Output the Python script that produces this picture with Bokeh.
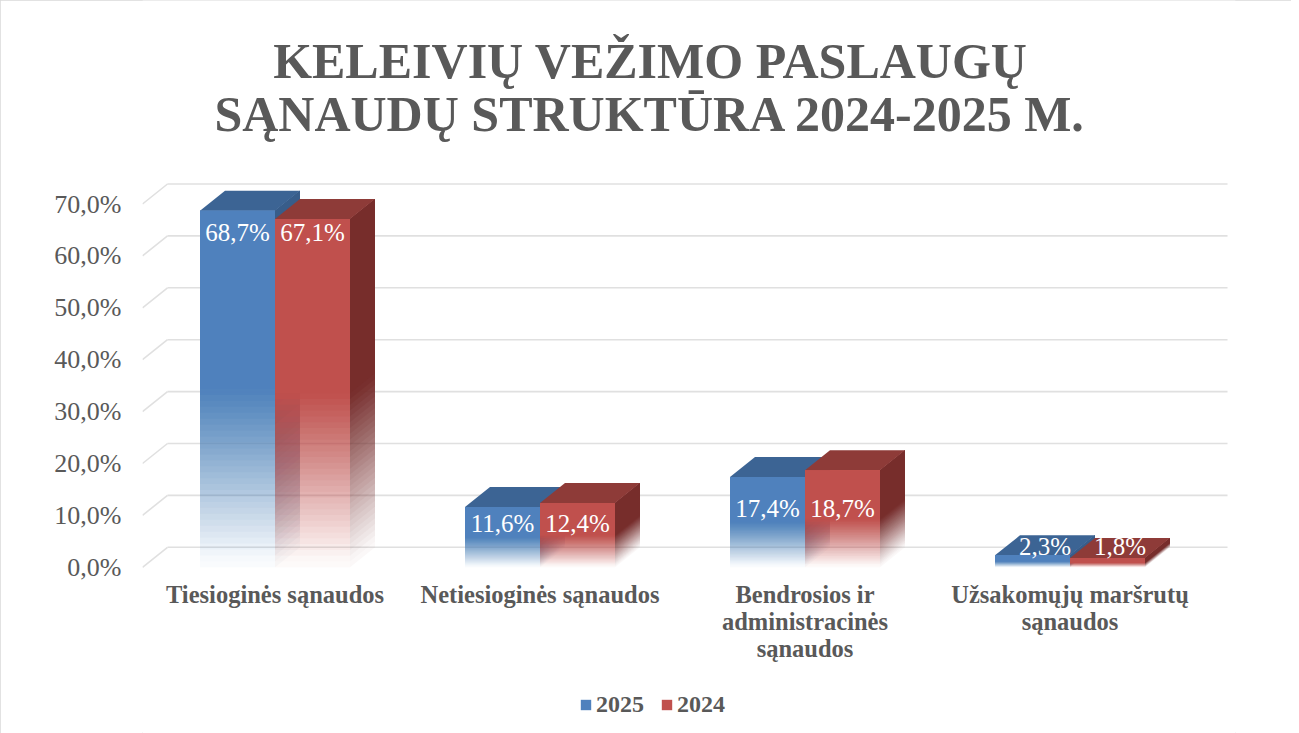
import numpy as np
from bokeh.plotting import figure
from bokeh.models import (Range1d, FixedTicker, CustomJSTickFormatter,
                          Legend, LegendItem, ColumnDataSource)
from bokeh.embed import file_html
from bokeh.resources import INLINE
from bokeh.core.properties import value

# ---------------- data ----------------
categories = ["Tiesioginės sąnaudos", "Netiesioginės sąnaudos",
              "Bendrosios ir\nadministracinės\nsąnaudos",
              "Užsakomųjų maršrutų\nsąnaudos"]
series_names = ["2025", "2024"]
values_2025 = [68.7, 11.6, 17.4, 2.3]
values_2024 = [67.1, 12.4, 18.7, 1.8]
y_ticks = [0, 10, 20, 30, 40, 50, 60, 70]
title_lines = ["KELEIVIŲ VEŽIMO PASLAUGŲ", "SĄNAUDŲ STRUKTŪRA 2024-2025 M."]

# ---------------- styles / geometry ----------------
W, H = 1291, 733
PAGE = 0
ML, MR = 142, 56
FW, FH = W - ML - MR, H
PX_X = 265.0          # pixels per category
PX_Y = 5.19           # pixels per percent
ZERO_PAGE_Y = 566.8   # page y of 0 % (front)
Y_END = (ZERO_PAGE_Y - PAGE) / PX_Y
Y0 = Y_END - FH / PX_Y
X_END = FW / PX_X
DX = 25 / PX_X        # depth offset (x)
DY = 20 / PX_Y        # depth offset (y)
BW = 75 / PX_X        # bar width
GRAY = "#595959"
SERIF = "Liberation Serif"

front_cols = ["#4F81BD", "#C0504D"]
top_cols = ["#3C6494", "#8E3B38"]
side_cols = ["#385D8A", "#772D2B"]

def page_to_y(py):
    return Y_END - (py - PAGE) / PX_Y

def page_to_x(px):
    return (px - PAGE - ML) / PX_X

p = figure(width=W, height=H, output_backend="svg", toolbar_location=None,
           x_range=Range1d(0, X_END), y_range=Range1d(Y0, Y_END),
           min_border_left=ML, min_border_right=MR, min_border_top=0,
           min_border_bottom=0)
p.outline_line_color = None
p.background_fill_color = "white"
p.border_fill_color = "white"
p.xgrid.visible = False
p.ygrid.visible = False
p.xaxis.visible = False
p.styles = {"outline": "1px solid #D9D9D9", "outline-offset": "-1px"}

# ---------------- back wall gridlines ----------------
grid_x_end = len(categories) + DX
gx0, gy0, gx1, gy1 = [], [], [], []
for t in y_ticks:
    gx0 += [0, DX]
    gy0 += [t, t + DY]
    gx1 += [DX, grid_x_end]
    gy1 += [t + DY, t + DY]
p.segment(gx0, gy0, gx1, gy1, line_color="#E0E0E0", line_width=1.6)

# ---------------- 3D bars (layered alpha gradient) ----------------
N = 30
targets = [max(0.03, (k + 0.5) / N) for k in range(N)]
layer_alpha = []
prev = 0.0
for T in targets:
    layer_alpha.append(1 - (1 - T) / (1 - prev))
    prev = T
layer_alpha.append(1.0)   # solid upper half

all_vals = [values_2025, values_2024]
front_renderers = []
for s in range(2):
    side = dict(xs=[], ys=[], a=[])
    top = dict(xs=[], ys=[])
    front = dict(xs=[], ys=[], a=[])
    for i, v in enumerate(all_vals[s]):
        x0 = i + 0.5 - BW + s * BW
        x1 = x0 + BW
        for k in range(N + 1):
            a = v * k / (2 * N)
            front["xs"].append([x0, x1, x1, x0])
            front["ys"].append([a, a, v, v])
            front["a"].append(layer_alpha[k])
            side["xs"].append([x1, x1 + DX, x1 + DX, x1])
            side["ys"].append([a, a + DY, v + DY, v])
            side["a"].append(layer_alpha[k])
        top["xs"].append([x0, x1, x1 + DX, x0 + DX])
        top["ys"].append([v, v, v + DY, v + DY])
    p.patches("xs", "ys", source=ColumnDataSource(side), fill_color=side_cols[s],
              fill_alpha="a", line_color=None)
    p.patches("xs", "ys", source=ColumnDataSource(top), fill_color=top_cols[s],
              line_color=None)
    r = p.patches("xs", "ys", source=ColumnDataSource(front), fill_color=front_cols[s],
                  fill_alpha="a", line_color=None)
    front_renderers.append(r)

# ---------------- data labels ----------------
lx, ly, lt = [], [], []
for s in range(2):
    for i, v in enumerate(all_vals[s]):
        m = max(values_2025[i], values_2024[i])
        x0 = i + 0.5 - BW + s * BW
        cx = x0 + BW / 2 + (DX / 2 if m < 5 else 0)
        cy = m - 4.2 if m > 30 else 2.9 + 0.45 * m
        lx.append(cx)
        ly.append(cy)
        lt.append(f"{v:.1f}".replace(".", ",") + "%")
p.text(lx, ly, text=lt, text_color="white", text_font=value(SERIF),
       text_font_size="25px", text_align="center", text_baseline="middle")

# ---------------- y axis ----------------
p.yaxis.ticker = FixedTicker(ticks=y_ticks)
p.yaxis.formatter = CustomJSTickFormatter(
    code="return tick.toFixed(1).replace('.', ',') + '%';")
p.yaxis.axis_line_color = None
p.yaxis.major_tick_line_color = None
p.yaxis.minor_tick_line_color = None
p.yaxis.major_label_standoff = 15
p.yaxis.major_label_text_font = SERIF
p.yaxis.major_label_text_font_size = "26px"
p.yaxis.major_label_text_color = GRAY

# ---------------- category labels ----------------
cx_, cy_, ct_ = [], [], []
for i, cat in enumerate(categories):
    for j, line in enumerate(cat.split("\n")):
        cx_.append(i + 0.5)
        cy_.append(page_to_y(594 + 27 * j))
        ct_.append(line)
p.text(cx_, cy_, text=ct_, text_color=GRAY, text_font=value(SERIF),
       text_font_size="24.5px", text_font_style="bold", text_align="center",
       text_baseline="middle")

# ---------------- title ----------------
tx = page_to_x(650)
p.text([tx] * len(title_lines), [page_to_y(60 + 53 * j) for j in range(len(title_lines))],
       text=title_lines, text_color=GRAY, text_font=value(SERIF),
       text_font_size="50px", text_font_style="bold", text_align="center",
       text_baseline="middle")

# ---------------- legend ----------------
legend = Legend(items=[LegendItem(label=series_names[0], renderers=[front_renderers[0]],
                                  index=N),
                       LegendItem(label=series_names[1], renderers=[front_renderers[1]],
                                  index=N)],
                orientation="horizontal", location=(437, 15),
                label_text_font=SERIF, label_text_font_size="24px",
                label_text_font_style="bold", label_text_color=GRAY,
                glyph_width=13, glyph_height=13, label_standoff=4, spacing=16,
                padding=0, margin=0, border_line_color=None,
                background_fill_alpha=0)
p.add_layout(legend, "center")

open("out.html", "w").write(file_html(p, INLINE))
